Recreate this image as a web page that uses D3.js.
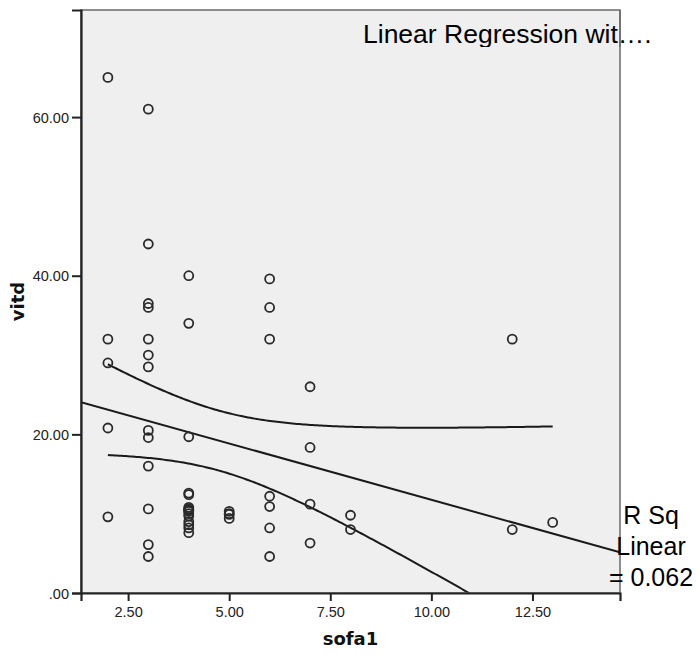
<!DOCTYPE html>
<html><head><meta charset="utf-8">
<script src="https://cdn.jsdelivr.net/npm/d3@7"></script>
<style>body{margin:0;background:#fff;} svg{display:block;font-family:Arial,"Liberation Sans",sans-serif;}</style>
</head><body>
<svg id="chart" width="697" height="655"></svg>
<script>
// sofa1 values and vitd values (one entry per observation)
const sofa1 = [
  2,2,2,2,2,
  3,3,3,3,3,3,3,3,3,3,3,3,3,
  4,4,4,4,4,4,4,4,4,4,4,4,4,4,4,4,
  5,5,5,5,
  6,6,6,6,6,6,6,
  7,7,7,7,
  8,8,
  12,12,
  13
];
const vitd = [
  65,32,29,20.8,9.6,
  61,44,36.5,36,32,30,28.5,20.5,19.6,16,10.6,6.1,4.6,
  40,34,19.7,12.6,12.4,10.8,10.6,10.5,10.3,10.0,9.7,9.0,8.6,8.2,7.6,10.4,
  10.3,9.9,9.4,10.0,
  39.6,36,32,12.2,10.9,8.2,4.6,
  26,18.35,11.2,6.3,
  9.8,8.0,
  32,8.0,
  8.9
];
const xTicks = [2.5, 5, 7.5, 10, 12.5];
const yTicks = [0, 20, 40, 60];
const titleText = "Linear Regression wit\u2026.";
const rsqLines = ["R Sq", "Linear", "= 0.062"];
const xLabel = "sofa1", yLabel = "vitd";
const tCrit = 2.01;

const svg = d3.select("#chart");
const L = 81, R = 620, T = 10, B = 593;
const x = d3.scaleLinear().domain([1.335, 14.665]).range([L, R]);
const y = d3.scaleLinear().domain([0, 73.5]).range([B, T]);

svg.append("rect").attr("x", L).attr("y", T).attr("width", R - L).attr("height", B - T).attr("fill", "#efefef");

const defs = svg.append("defs");
defs.append("clipPath").attr("id", "plotclip").append("rect").attr("x", L).attr("y", T).attr("width", R - L).attr("height", B - T);
defs.append("clipPath").attr("id", "titleclip").append("rect").attr("x", 0).attr("y", 0).attr("width", 697).attr("height", 47);

// regression
const data = sofa1.map((d, i) => ({x: d, y: vitd[i]}));
const n = data.length;
const mx = d3.mean(data, d => d.x), my = d3.mean(data, d => d.y);
const sxx = d3.sum(data, d => (d.x - mx) ** 2);
const sxy = d3.sum(data, d => (d.x - mx) * (d.y - my));
const slope = sxy / sxx, icpt = my - slope * mx;
const sse = d3.sum(data, d => (d.y - (icpt + slope * d.x)) ** 2);
const s = Math.sqrt(sse / (n - 2));
const fit = v => icpt + slope * v;
const hw = v => tCrit * s * Math.sqrt(1 / n + (v - mx) ** 2 / sxx);

const g = svg.append("g").attr("clip-path", "url(#plotclip)");
const xmin = d3.min(sofa1), xmax = d3.max(sofa1);
const grid = d3.range(0, 201).map(i => xmin + (xmax - xmin) * i / 200);
const line = d3.line().x(d => x(d[0])).y(d => y(d[1]));
g.append("path").attr("d", line(x.domain().map(v => [v, fit(v)]))).attr("fill", "none").attr("stroke", "#1a1a1a").attr("stroke-width", 2);
g.append("path").attr("d", line(grid.map(v => [v, fit(v) + hw(v)]))).attr("fill", "none").attr("stroke", "#1a1a1a").attr("stroke-width", 2);
g.append("path").attr("d", line(grid.map(v => [v, fit(v) - hw(v)]))).attr("fill", "none").attr("stroke", "#1a1a1a").attr("stroke-width", 2);

g.selectAll("circle").data(data).enter().append("circle")
  .attr("cx", d => x(d.x)).attr("cy", d => y(d.y)).attr("r", 4.5)
  .attr("fill", "none").attr("stroke", "#2a2a2a").attr("stroke-width", 1.8);

// frame
svg.append("rect").attr("x", L).attr("y", T).attr("width", R - L).attr("height", B - T).attr("fill", "none").attr("stroke", "#6a6a6a").attr("stroke-width", 1.5);

// axes
const xAxis = svg.append("g").attr("transform", `translate(0,${B})`)
  .call(d3.axisBottom(x).tickValues(xTicks).tickFormat(d3.format(".2f")).tickSize(8).tickPadding(6));
const yAxis = svg.append("g").attr("transform", `translate(${L},0)`)
  .call(d3.axisLeft(y).tickValues(yTicks).tickFormat(d => d === 0 ? ".00" : d3.format(".2f")(d)).tickSize(9).tickPadding(3));
[xAxis, yAxis].forEach(a => {
  a.select(".domain").attr("stroke", "#222").attr("stroke-width", 2.2);
  a.selectAll(".tick line").attr("stroke", "#222").attr("stroke-width", 2);
  a.selectAll("text").attr("font-size", 14.5).attr("fill", "#222").attr("font-family", "Arial, 'Liberation Sans', sans-serif");
});
yAxis.selectAll("text").attr("dy", "0.35em");

svg.append("text").attr("x", (L + R) / 2).attr("y", 645).attr("text-anchor", "middle")
  .attr("font-size", 18).attr("font-weight", "bold").attr("fill", "#111").attr("font-family", "'DejaVu Sans', sans-serif").text(xLabel);
svg.append("text").attr("transform", `translate(24,${(T + B) / 2}) rotate(-90)`).attr("text-anchor", "middle")
  .attr("font-size", 18).attr("font-weight", "bold").attr("fill", "#111").attr("font-family", "'DejaVu Sans', sans-serif").text(yLabel);

// title (clipped at bottom like the reference)
svg.append("text").attr("x", 363).attr("y", 43).attr("font-size", 26.5).attr("fill", "#000")
  .attr("clip-path", "url(#titleclip)").text(titleText);
svg.append("line").attr("x1", R).attr("x2", R).attr("y1", T).attr("y2", 47).attr("stroke", "#6a6a6a").attr("stroke-width", 1.5);

// R squared label
svg.append("g").selectAll("text").data(rsqLines).enter().append("text")
  .attr("x", 651).attr("y", (d, i) => 524 + i * 31).attr("text-anchor", "middle")
  .attr("font-size", 25).attr("fill", "#000").text(d => d);
</script>
</body></html>
